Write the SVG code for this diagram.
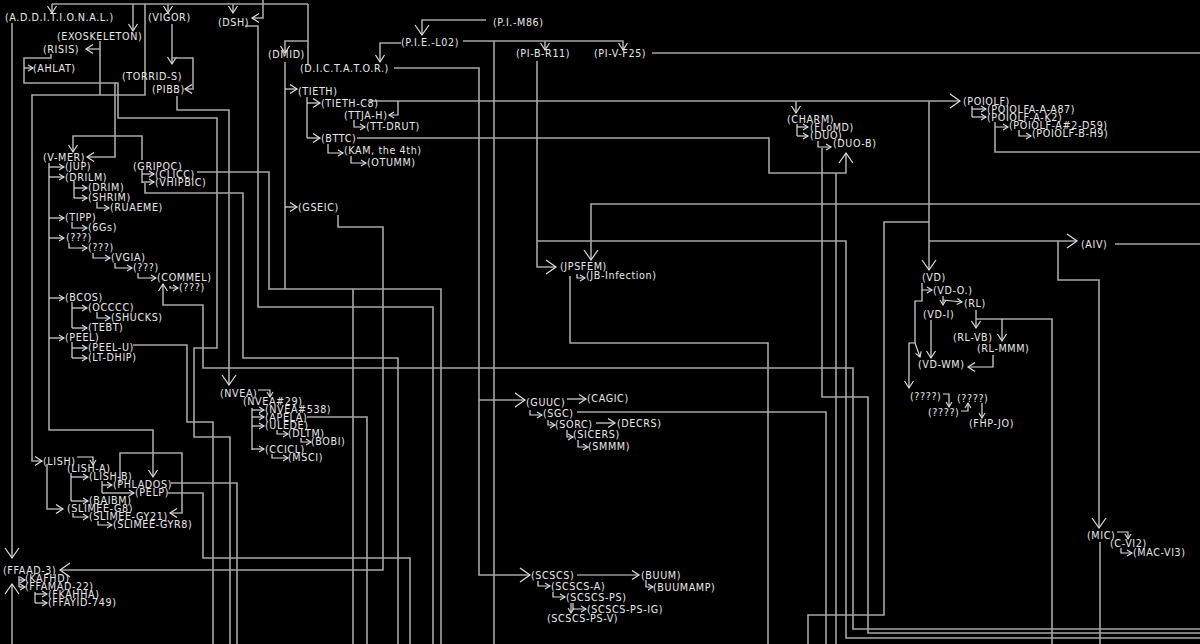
<svg xmlns="http://www.w3.org/2000/svg" width="1200" height="644" viewBox="0 0 1200 644">
<style>
.c{fill:none;stroke:#a6a6a6;stroke-width:1.6}
.t{fill:none;stroke:#dcdcdc;stroke-width:1.2}
text{font-family:"DejaVu Sans",Verdana,sans-serif;font-size:9.6px;fill:#e8e8e8;letter-spacing:0.6px}
</style>
<defs>
<marker id="s" markerUnits="userSpaceOnUse" markerWidth="14" markerHeight="16" viewBox="-12 -8 14 16" refX="0" refY="0" orient="auto" overflow="visible"><path d="M-5,-3 L0,0 L-5,3" fill="none" stroke="#e0e0e0" stroke-width="1.1"/></marker>
<marker id="m" markerUnits="userSpaceOnUse" markerWidth="14" markerHeight="16" viewBox="-12 -8 14 16" refX="0" refY="0" orient="auto" overflow="visible"><path d="M-7,-4.5 L0,0 L-7,4.5" fill="none" stroke="#e0e0e0" stroke-width="1.2"/></marker>
<marker id="b" markerUnits="userSpaceOnUse" markerWidth="14" markerHeight="16" viewBox="-12 -8 14 16" refX="0" refY="0" orient="auto" overflow="visible"><path d="M-10,-7 L0,0 L-10,7" fill="none" stroke="#e0e0e0" stroke-width="1.2"/></marker>
</defs>
<rect width="1200" height="644" fill="#000"/>
<g id="connectors">
<path class="c" d="M52,4 H308"/>
<path class="c" d="M52,4 V13" marker-end="url(#m)"/>
<path class="c" d="M133,4 V31" marker-end="url(#m)"/>
<path class="c" d="M168,4 V13" marker-end="url(#m)"/>
<path class="c" d="M233,4 V13" marker-end="url(#m)"/>
<path class="c" d="M263,0 V18 H252" marker-end="url(#m)"/>
<path class="c" d="M308,4 V64"/>
<path class="c" d="M308,41 H285 V53" marker-end="url(#m)"/>
<path class="c" d="M285,62 V289"/>
<path class="t" d="M285,89 H297" marker-end="url(#m)"/>
<path class="t" d="M285,207 H297" marker-end="url(#m)"/>
<path class="c" d="M12,23 V558" marker-end="url(#b)"/>
<path class="c" d="M12,644 V584" marker-end="url(#b)"/>
<path class="c" d="M100,41 V49 H86" marker-end="url(#m)"/>
<path class="c" d="M100,49 V95"/>
<path class="c" d="M145,4 V95 H32 V461 H42" marker-end="url(#m)"/>
<path class="c" d="M51,54 V58 H24 V83 H115 V157 H87" marker-end="url(#m)"/>
<path class="t" d="M24,68 H33" marker-end="url(#s)"/>
<path class="c" d="M115,83 H118 V118 H217 V348 H194 V437 H230 V644"/>
<path class="c" d="M142,160 V136 H73 V152" marker-end="url(#m)"/>
<path class="c" d="M172,24 V64" marker-end="url(#m)"/>
<path class="c" d="M172,58 H193 V89 H185" marker-end="url(#m)"/>
<path class="c" d="M177,96 V110 H229 V385" marker-end="url(#b)"/>
<path class="c" d="M245,26 H258 V307 H433 V644"/>
<path class="c" d="M197,172 H269 V289 H441 V644"/>
<path class="t" d="M142,170 V183"/>
<path class="t" d="M142,174 H154" marker-end="url(#s)"/>
<path class="t" d="M142,182 H154" marker-end="url(#s)"/>
<path class="c" d="M145,183 V193 H243 V358 H398 V644"/>
<path class="c" d="M338,215 V227 H383 V570 H60" marker-end="url(#b)"/>
<path class="c" d="M353,289 V644"/>
<path class="c" d="M307,417 H367 V644"/>
<path class="c" d="M133,345 H187 V422 H213 V644"/>
<path class="c" d="M1200,629 H853 V368 H203 V305 H163 V284" marker-end="url(#m)"/>
<path class="c" d="M168,493 H203 V558 H410 V644"/>
<path class="c" d="M171,483 H237 V644"/>
<path class="c" d="M120,483 V453 H182 V513 H170" marker-end="url(#m)"/>
<path class="c" d="M49,163 V430 H153 V477" marker-end="url(#m)"/>
<path class="t" d="M77,457 H93 V465" marker-end="url(#s)"/>
<path class="c" d="M47,464 V509 H63" marker-end="url(#m)"/>
<path class="t" d="M71,473 V501"/>
<path class="t" d="M71,477 H88" marker-end="url(#s)"/>
<path class="t" d="M71,501 H88" marker-end="url(#s)"/>
<path class="t" d="M102,481 V493"/>
<path class="t" d="M102,485 H112" marker-end="url(#s)"/>
<path class="t" d="M102,493 H134" marker-end="url(#s)"/>
<path class="t" d="M73,513 V517 H88" marker-end="url(#s)"/>
<path class="t" d="M98,521 V525 H112" marker-end="url(#s)"/>
<path class="t" d="M49,167 H64" marker-end="url(#s)"/>
<path class="t" d="M49,177 H64" marker-end="url(#s)"/>
<path class="t" d="M74,181 V198"/>
<path class="t" d="M74,188 H87" marker-end="url(#s)"/>
<path class="t" d="M74,198 H87" marker-end="url(#s)"/>
<path class="t" d="M97,202 V208 H109" marker-end="url(#s)"/>
<path class="t" d="M49,218 H64" marker-end="url(#s)"/>
<path class="t" d="M72,222 V228 H87" marker-end="url(#s)"/>
<path class="t" d="M49,238 H64" marker-end="url(#s)"/>
<path class="t" d="M69,243 V248 H87" marker-end="url(#s)"/>
<path class="t" d="M93,253 V258 H110" marker-end="url(#s)"/>
<path class="t" d="M115,263 V268 H132" marker-end="url(#s)"/>
<path class="t" d="M138,273 V278 H156" marker-end="url(#s)"/>
<path class="t" d="M170,286 V288 H178" marker-end="url(#s)"/>
<path class="t" d="M49,298 H64" marker-end="url(#s)"/>
<path class="t" d="M72,302 V328"/>
<path class="t" d="M72,308 H87" marker-end="url(#s)"/>
<path class="t" d="M72,328 H87" marker-end="url(#s)"/>
<path class="t" d="M97,312 V318 H110" marker-end="url(#s)"/>
<path class="t" d="M49,338 H64" marker-end="url(#s)"/>
<path class="t" d="M72,342 V358"/>
<path class="t" d="M72,348 H87" marker-end="url(#s)"/>
<path class="t" d="M72,358 H87" marker-end="url(#s)"/>
<path class="t" d="M307,97 V138"/>
<path class="t" d="M307,103 H320" marker-end="url(#m)"/>
<path class="t" d="M307,138 H320" marker-end="url(#m)"/>
<path class="c" d="M370,101 H960" marker-end="url(#b)"/>
<path class="t" d="M398,101 V115 H389" marker-end="url(#s)"/>
<path class="t" d="M354,120 V127 H365" marker-end="url(#s)"/>
<path class="c" d="M357,138 H769 V173 H846 V153" marker-end="url(#b)"/>
<path class="c" d="M836,173 V644"/>
<path class="t" d="M328,144 V153 H343" marker-end="url(#s)"/>
<path class="t" d="M351,156 V163 H366" marker-end="url(#s)"/>
<path class="c" d="M796,101 V113" marker-end="url(#m)"/>
<path class="t" d="M797,124 V136"/>
<path class="t" d="M797,127 H808" marker-end="url(#s)"/>
<path class="t" d="M797,136 H808" marker-end="url(#s)"/>
<path class="t" d="M818,141 V147 H831" marker-end="url(#s)"/>
<path class="c" d="M822,148 V397 H868 V633 H1200"/>
<path class="c" d="M929,101 V270" marker-end="url(#b)"/>
<path class="c" d="M929,222 H884 V615 H808 V644"/>
<path class="c" d="M929,241 H1077" marker-end="url(#b)"/>
<path class="c" d="M1115,244 H1200"/>
<path class="c" d="M1058,241 V280 H1099 V528" marker-end="url(#b)"/>
<path class="c" d="M1100,542 V644"/>
<path class="c" d="M537,241 H846 V638 H1200"/>
<path class="c" d="M537,61 V267 H556" marker-end="url(#b)"/>
<path class="c" d="M1200,204 H591 V260" marker-end="url(#b)"/>
<path class="t" d="M577,274 V278 H585" marker-end="url(#s)"/>
<path class="c" d="M570,276 V343 H768 V644"/>
<path class="c" d="M394,68 H479 V575 H530" marker-end="url(#b)"/>
<path class="c" d="M479,400 H525" marker-end="url(#b)"/>
<path class="c" d="M463,41 H623 V50" marker-end="url(#m)"/>
<path class="c" d="M545,41 V50" marker-end="url(#m)"/>
<path class="c" d="M494,41 V644"/>
<path class="c" d="M486,20 H422 V35" marker-end="url(#b)"/>
<path class="c" d="M401,43 H380 V62" marker-end="url(#m)"/>
<path class="c" d="M652,53 H1200"/>
<path class="t" d="M972,106 V117"/>
<path class="t" d="M972,109 H986" marker-end="url(#s)"/>
<path class="t" d="M972,117 H986" marker-end="url(#s)"/>
<path class="t" d="M995,122 V127 H1008" marker-end="url(#s)"/>
<path class="c" d="M995,127 V152 H1200"/>
<path class="t" d="M1019,130 V136 H1031" marker-end="url(#s)"/>
<path class="t" d="M567,399 H586" marker-end="url(#m)"/>
<path class="t" d="M530,410 V415 H542" marker-end="url(#s)"/>
<path class="t" d="M548,420 V425 H555" marker-end="url(#s)"/>
<path class="t" d="M596,423 H615" marker-end="url(#m)"/>
<path class="t" d="M567,430 V437 H573" marker-end="url(#s)"/>
<path class="t" d="M578,440 V447 H588" marker-end="url(#s)"/>
<path class="c" d="M577,412 H826 V644"/>
<path class="t" d="M577,575 H639" marker-end="url(#m)"/>
<path class="t" d="M646,580 V587 H653" marker-end="url(#s)"/>
<path class="t" d="M538,581 V586 H550" marker-end="url(#s)"/>
<path class="t" d="M553,592 V597 H565" marker-end="url(#s)"/>
<path class="t" d="M573,603 V609 H586" marker-end="url(#s)"/>
<path class="t" d="M571,603 V613" marker-end="url(#s)"/>
<path class="t" d="M258,390 H270 V397" marker-end="url(#s)"/>
<path class="t" d="M252,408 V450"/>
<path class="t" d="M252,410 H264" marker-end="url(#s)"/>
<path class="t" d="M252,417 H264" marker-end="url(#s)"/>
<path class="t" d="M252,426 H264" marker-end="url(#s)"/>
<path class="t" d="M252,449 H264" marker-end="url(#s)"/>
<path class="t" d="M277,430 V434 H288" marker-end="url(#s)"/>
<path class="t" d="M301,438 V442 H311" marker-end="url(#s)"/>
<path class="t" d="M272,454 V458 H288" marker-end="url(#s)"/>
<path class="t" d="M19,576 V587"/>
<path class="t" d="M19,580 H25" marker-end="url(#s)"/>
<path class="t" d="M19,587 H25" marker-end="url(#s)"/>
<path class="t" d="M35,592 V603"/>
<path class="t" d="M35,594 H47" marker-end="url(#s)"/>
<path class="t" d="M35,603 H47" marker-end="url(#s)"/>
<path class="t" d="M1117,532 H1128 V539" marker-end="url(#s)"/>
<path class="t" d="M1121,548 V553 H1132" marker-end="url(#s)"/>
<path class="t" d="M976,310 V328" marker-end="url(#m)"/>
<path class="c" d="M976,319 H1052 V644"/>
<path class="t" d="M1002,319 V341" marker-end="url(#m)"/>
<path class="t" d="M922,283 V290 H932" marker-end="url(#s)"/>
<path class="t" d="M922,290 V301 H915 V343 H909 V388" marker-end="url(#m)"/>
<path class="t" d="M915,343 L920,357" marker-end="url(#s)"/>
<path class="t" d="M943,296 V305" marker-end="url(#s)"/>
<path class="t" d="M943,300 L962,302" marker-end="url(#s)"/>
<path class="t" d="M931,320 V358" marker-end="url(#m)"/>
<path class="t" d="M993,355 V367 H968" marker-end="url(#m)"/>
<path class="t" d="M943,394 H949 V407" marker-end="url(#s)"/>
<path class="t" d="M961,411 H968 V403" marker-end="url(#s)"/>
<path class="t" d="M982,403 V418" marker-end="url(#s)"/>
</g>
<g id="nodes">
<g id="n1"><text x="5" y="21">(A.D.D.I.T.I.O.N.A.L.)</text></g>
<g id="n2"><text x="148" y="21">(VIGOR)</text></g>
<g id="n3"><text x="218" y="26">(DSH)</text></g>
<g id="n4"><text x="57" y="40">(EXOSKELETON)</text></g>
<g id="n5"><text x="43" y="53">(RISIS)</text></g>
<g id="n6"><text x="33" y="72">(AHLAT)</text></g>
<g id="n7"><text x="122" y="80">(TORRID-S)</text></g>
<g id="n8"><text x="152" y="93">(PIBB)</text></g>
<g id="n9"><text x="268" y="58">(DMID)</text></g>
<g id="n10"><text x="300" y="72">(D.I.C.T.A.T.O.R.)</text></g>
<g id="n11"><text x="493" y="26">(P.I.-M86)</text></g>
<g id="n12"><text x="401" y="46">(P.I.E.-L02)</text></g>
<g id="n13"><text x="516" y="57">(PI-B-R11)</text></g>
<g id="n14"><text x="594" y="57">(PI-V-F25)</text></g>
<g id="n15"><text x="298" y="95">(TIETH)</text></g>
<g id="n16"><text x="321" y="107">(TIETH-C8)</text></g>
<g id="n17"><text x="344" y="119">(TTJA-H)</text></g>
<g id="n18"><text x="366" y="130">(TT-DRUT)</text></g>
<g id="n19"><text x="321" y="142">(BTTC)</text></g>
<g id="n20"><text x="344" y="154">(KAM, the 4th)</text></g>
<g id="n21"><text x="367" y="166">(OTUMM)</text></g>
<g id="n22"><text x="787" y="123">(CHARM)</text></g>
<g id="n23"><text x="810" y="131">(FLoMD)</text></g>
<g id="n24"><text x="810" y="139">(DUO)</text></g>
<g id="n25"><text x="833" y="147">(DUO-B)</text></g>
<g id="n26"><text x="963" y="105">(POIOLF)</text></g>
<g id="n27"><text x="987" y="113">(POIOLFA-A-A87)</text></g>
<g id="n28"><text x="987" y="121">(POIOLF-A-K2)</text></g>
<g id="n29"><text x="1009" y="129">(POIOLF-A#2-D59)</text></g>
<g id="n30"><text x="1032" y="137">(POIOLF-B-H9)</text></g>
<g id="n31"><text x="43" y="161">(V-MER)</text></g>
<g id="n32"><text x="65" y="170">(JUP)</text></g>
<g id="n33"><text x="65" y="181">(DRILM)</text></g>
<g id="n34"><text x="133" y="170">(GRIPOC)</text></g>
<g id="n35"><text x="155" y="178">(CLICC)</text></g>
<g id="n36"><text x="155" y="186">(VHIPBIC)</text></g>
<g id="n37"><text x="88" y="191">(DRIM)</text></g>
<g id="n38"><text x="88" y="201">(SHRIM)</text></g>
<g id="n39"><text x="110" y="211">(RUAEME)</text></g>
<g id="n40"><text x="298" y="211">(GSEIC)</text></g>
<g id="n41"><text x="65" y="221">(TIPP)</text></g>
<g id="n42"><text x="88" y="231">(6Gs)</text></g>
<g id="n43"><text x="66" y="241">(???)</text></g>
<g id="n44"><text x="88" y="251">(???)</text></g>
<g id="n45"><text x="111" y="261">(VGIA)</text></g>
<g id="n46"><text x="133" y="271">(???)</text></g>
<g id="n47"><text x="157" y="281">(COMMEL)</text></g>
<g id="n48"><text x="179" y="291">(???)</text></g>
<g id="n49"><text x="65" y="301">(BCOS)</text></g>
<g id="n50"><text x="88" y="311">(OCCCC)</text></g>
<g id="n51"><text x="111" y="321">(SHUCKS)</text></g>
<g id="n52"><text x="88" y="331">(TEBT)</text></g>
<g id="n53"><text x="65" y="341">(PEEL)</text></g>
<g id="n54"><text x="88" y="351">(PEEL-U)</text></g>
<g id="n55"><text x="88" y="361">(LT-DHIP)</text></g>
<g id="n56"><text x="560" y="270">(JPSFEM)</text></g>
<g id="n57"><text x="586" y="279">(JB-Infection)</text></g>
<g id="n58"><text x="1081" y="248">(AIV)</text></g>
<g id="n59"><text x="922" y="281">(VD)</text></g>
<g id="n60"><text x="933" y="294">(VD-O.)</text></g>
<g id="n61"><text x="964" y="307">(RL)</text></g>
<g id="n62"><text x="923" y="318">(VD-I)</text></g>
<g id="n63"><text x="953" y="341">(RL-VB)</text></g>
<g id="n64"><text x="977" y="352">(RL-MMM)</text></g>
<g id="n65"><text x="918" y="368">(VD-WM)</text></g>
<g id="n66"><text x="910" y="400">(????)</text></g>
<g id="n67"><text x="957" y="402">(????)</text></g>
<g id="n68"><text x="928" y="416">(????)</text></g>
<g id="n69"><text x="969" y="427">(FHP-JO)</text></g>
<g id="n70"><text x="220" y="397">(NVEA)</text></g>
<g id="n71"><text x="243" y="405">(NVEA#29)</text></g>
<g id="n72"><text x="265" y="413">(NVEA#538)</text></g>
<g id="n73"><text x="265" y="421">(APELA)</text></g>
<g id="n74"><text x="265" y="429">(ULEDE)</text></g>
<g id="n75"><text x="288" y="437">(DLTM)</text></g>
<g id="n76"><text x="311" y="445">(BOBI)</text></g>
<g id="n77"><text x="265" y="453">(CCICL)</text></g>
<g id="n78"><text x="288" y="461">(MSCI)</text></g>
<g id="n79"><text x="526" y="406">(GUUC)</text></g>
<g id="n80"><text x="587" y="402">(CAGIC)</text></g>
<g id="n81"><text x="543" y="417">(SGC)</text></g>
<g id="n82"><text x="555" y="428">(SORC)</text></g>
<g id="n83"><text x="617" y="427">(DECRS)</text></g>
<g id="n84"><text x="573" y="438">(SICERS)</text></g>
<g id="n85"><text x="588" y="450">(SMMM)</text></g>
<g id="n86"><text x="43" y="465">(LISH)</text></g>
<g id="n87"><text x="67" y="472">(LISH-A)</text></g>
<g id="n88"><text x="89" y="480">(LISH-B)</text></g>
<g id="n89"><text x="113" y="488">(PHLADOS)</text></g>
<g id="n90"><text x="135" y="496">(PELP)</text></g>
<g id="n91"><text x="89" y="504">(BAIBM)</text></g>
<g id="n92"><text x="67" y="512">(SLIMEE-G8)</text></g>
<g id="n93"><text x="89" y="520">(SLIMEE-GY21)</text></g>
<g id="n94"><text x="113" y="528">(SLIMEE-GYR8)</text></g>
<g id="n95"><text x="1087" y="539">(MIC)</text></g>
<g id="n96"><text x="1110" y="547">(C-VI2)</text></g>
<g id="n97"><text x="1133" y="556">(MAC-VI3)</text></g>
<g id="n98"><text x="3" y="574">(FFAAD-3)</text></g>
<g id="n99"><text x="25" y="582">(KAFHD)</text></g>
<g id="n100"><text x="25" y="590">(FFAMAD-22)</text></g>
<g id="n101"><text x="48" y="598">(FKAHHA)</text></g>
<g id="n102"><text x="48" y="606">(FFAYID-749)</text></g>
<g id="n103"><text x="531" y="579">(SCSCS)</text></g>
<g id="n104"><text x="641" y="579">(BUUM)</text></g>
<g id="n105"><text x="551" y="590">(SCSCS-A)</text></g>
<g id="n106"><text x="653" y="591">(BUUMAMP)</text></g>
<g id="n107"><text x="566" y="601">(SCSCS-PS)</text></g>
<g id="n108"><text x="587" y="613">(SCSCS-PS-IG)</text></g>
<g id="n109"><text x="547" y="622">(SCSCS-PS-V)</text></g>
</g>
</svg>
